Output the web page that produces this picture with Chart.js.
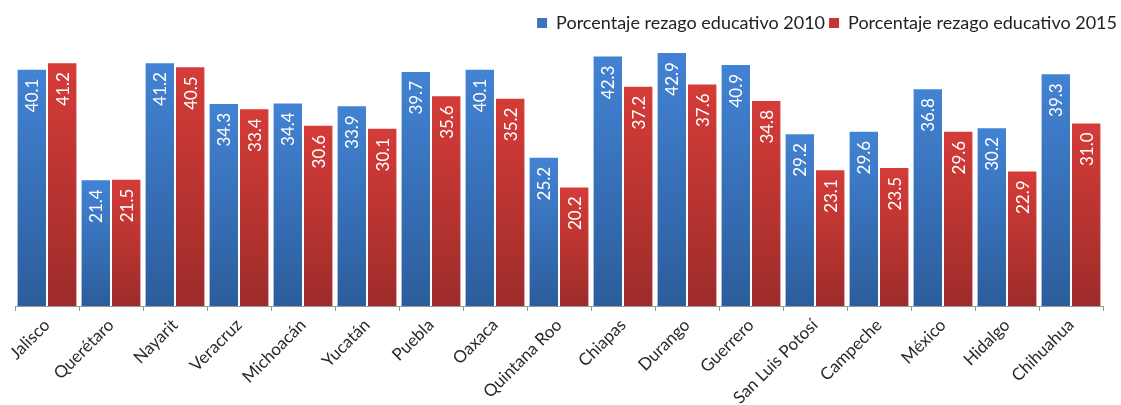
<!DOCTYPE html>
<html>
<head>
<meta charset="utf-8">
<script src="https://cdn.jsdelivr.net/npm/chart.js@4/dist/chart.umd.min.js"></script>
<style>
  html, body { margin: 0; padding: 0; background: #fff; }
  #wrap { width: 1121px; height: 405px; }
</style>
</head>
<body>
<div id="wrap"><canvas id="grafica"></canvas></div>
<script>
// datos
var estados = ['Jalisco', 'Querétaro', 'Nayarit', 'Veracruz', 'Michoacán', 'Yucatán', 'Puebla', 'Oaxaca',
  'Quintana Roo', 'Chiapas', 'Durango', 'Guerrero', 'San Luis Potosí', 'Campeche', 'México', 'Hidalgo', 'Chihuahua'];
var rezago2010 = [40.1, 21.4, 41.2, 34.3, 34.4, 33.9, 39.7, 40.1, 25.2, 42.3, 42.9, 40.9, 29.2, 29.6, 36.8, 30.2, 39.3];
var rezago2015 = [41.2, 21.5, 40.5, 33.4, 30.6, 30.1, 35.6, 35.2, 20.2, 37.2, 37.6, 34.8, 23.1, 23.5, 29.6, 22.9, 31.0];
var etiquetas = ['Porcentaje rezago educativo 2010', 'Porcentaje rezago educativo 2015'];

var fuente = 'Lato, "Open Sans", sans-serif';

// degradado vertical por barra (claro arriba, oscuro abajo)
function degradado(claro, oscuro) {
  return function (context) {
    var chart = context.chart;
    if (!chart.chartArea || context.raw == null) return oscuro;
    var y = chart.scales.y;
    var arriba = y.getPixelForValue(context.raw);
    var abajo = y.getPixelForValue(0);
    if (!isFinite(arriba) || abajo - arriba < 1) return oscuro;
    var g = chart.ctx.createLinearGradient(0, arriba, 0, abajo);
    g.addColorStop(0, claro);
    g.addColorStop(1, oscuro);
    return g;
  };
}

// valores verticales en blanco dentro de cada barra
var valoresBarras = {
  id: 'valoresBarras',
  afterDatasetsDraw: function (chart) {
    var ctx = chart.ctx;
    ctx.save();
    ctx.fillStyle = '#ffffff';
    ctx.font = '17px ' + fuente;
    ctx.textAlign = 'right';
    ctx.textBaseline = 'middle';
    chart.data.datasets.forEach(function (ds, i) {
      var meta = chart.getDatasetMeta(i);
      meta.data.forEach(function (barra, j) {
        ctx.save();
        ctx.translate(barra.x, barra.y + 10);
        ctx.rotate(-Math.PI / 2);
        ctx.fillText(ds.data[j].toFixed(1), 0, 1);
        ctx.restore();
      });
    });
    ctx.restore();
  }
};

new Chart(document.getElementById('grafica'), {
  type: 'bar',
  data: {
    labels: estados,
    datasets: [{
      label: etiquetas[0],
      data: rezago2010,
      backgroundColor: degradado('#4383d4', '#2c5d9b'),
      borderColor: 'rgba(255,255,255,0.35)',
      borderWidth: 1,
      categoryPercentage: 0.95,
      barPercentage: 1.0
    }, {
      label: etiquetas[1],
      data: rezago2015,
      backgroundColor: degradado('#d53c38', '#9d2c2a'),
      borderColor: 'rgba(255,255,255,0.35)',
      borderWidth: 1,
      categoryPercentage: 0.95,
      barPercentage: 1.0
    }]
  },
  options: {
    responsive: true,
    maintainAspectRatio: false,
    animation: false,
    layout: { padding: { left: 15, right: 0, top: 10, bottom: 0 } },
    plugins: {
      legend: {
        position: 'top',
        align: 'end',
        labels: {
          boxWidth: 10,
          boxHeight: 10,
          padding: 4,
          color: '#222',
          font: { family: fuente, size: 18 },
          generateLabels: function (chart) {
            var colores = ['#3a74bd', '#c23532'];
            return chart.data.datasets.map(function (ds, i) {
              return { text: ds.label, fillStyle: colores[i], strokeStyle: colores[i], lineWidth: 0, datasetIndex: i, fontColor: '#222' };
            });
          }
        }
      },
      tooltip: { enabled: false }
    },
    scales: {
      x: {
        grid: { display: true, drawOnChartArea: false, offset: true, tickLength: 5, color: '#9a9a9a' },
        border: { display: true, color: '#9a9a9a', width: 1 },
        ticks: {
          minRotation: 45,
          maxRotation: 45,
          autoSkip: false,
          color: '#2a2a2a',
          font: { family: fuente, size: 17 },
          padding: 4
        },
        afterFit: function (escala) { escala.height = 99; }
      },
      y: {
        position: 'right',
        min: 0,
        max: 44.6,
        ticks: { display: false },
        grid: { display: false },
        border: { display: false },
        afterFit: function (escala) { escala.width = 18; }
      }
    }
  },
  plugins: [valoresBarras]
});
</script>
</body>
</html>
